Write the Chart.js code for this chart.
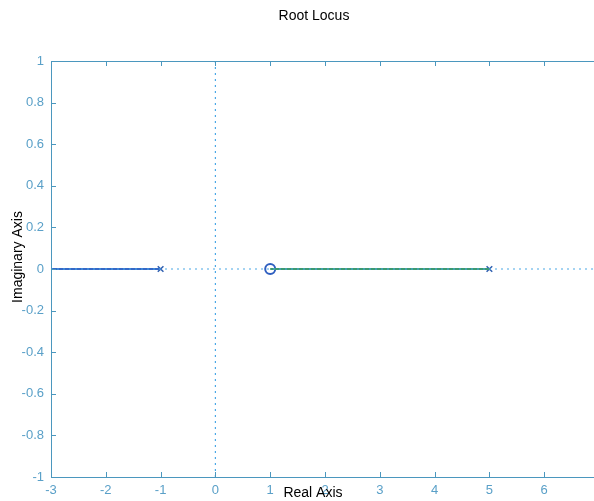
<!DOCTYPE html>
<html>
<head>
<meta charset="utf-8">
<title>Root Locus</title>
<script src="https://cdn.jsdelivr.net/npm/chart.js@4/dist/chart.umd.min.js"></script>
<style>
    html, body { margin: 0; padding: 0; background: #fff; overflow: hidden; }
    canvas { display: block; }
</style>
</head>
<body>
<canvas id="rlocus" width="606" height="501"></canvas>
<script>
// tick labels
const realTicks = [-3, -2, -1, 0, 1, 2, 3, 4, 5, 6, 7];
const imagTicks = [-1, -0.8, -0.6, -0.4, -0.2, 0, 0.2, 0.4, 0.6, 0.8, 1];

// locus branches (real part, imaginary part)
const branch1Re = [-3, -1];
const branch1Im = [0, 0];
const branch2Re = [1, 5];
const branch2Im = [0, 0];
const branch3Re = [-3, -2.1];
const branch3Im = [0, 0];

// open-loop poles and zeros
const polesRe = [-1, 5];
const polesIm = [0, 0];
const zerosRe = [1];
const zerosIm = [0];

// dotted axes through origin
const realLineRe = [-3, 7];
const realLineIm = [0, 0];
const imagLineRe = [0, 0];
const imagLineIm = [-1, 1];

const pts = (xs, ys) => xs.map((x, i) => ({ x, y: ys[i] }));

const axisColor = '#4b97be';
const labelColor = '#5aa0c8';
const dotColor = '#4aa8e6';

const frame = {
    id: 'frame',
    afterDraw(chart) {
        const { ctx, chartArea: a, scales } = chart;
        ctx.save();
        ctx.strokeStyle = axisColor;
        ctx.lineWidth = 1;
        ctx.strokeRect(a.left + 0.5, a.top + 0.5, a.right - a.left, a.bottom - a.top);
        ctx.beginPath();
        realTicks.forEach((v) => {
            const px = Math.round(scales.x.getPixelForValue(v)) + 0.5;
            ctx.moveTo(px, a.bottom); ctx.lineTo(px, a.bottom - 5);
            ctx.moveTo(px, a.top); ctx.lineTo(px, a.top + 5);
        });
        imagTicks.forEach((v) => {
            const py = Math.round(scales.y.getPixelForValue(v)) + 0.5;
            ctx.moveTo(a.left, py); ctx.lineTo(a.left + 5, py);
            ctx.moveTo(a.right, py); ctx.lineTo(a.right - 5, py);
        });
        ctx.stroke();

        ctx.fillStyle = '#000';
        ctx.font = '14px "Liberation Sans", Arial, sans-serif';
        ctx.textAlign = 'center';
        ctx.textBaseline = 'middle';
        ctx.fillText('Root Locus', 314, 16);
        ctx.fillText('Real Axis', 313, 493);
        ctx.translate(18, 257);
        ctx.rotate(-Math.PI / 2);
        ctx.fillText('Imaginary Axis', 0, 0);
        ctx.restore();
    },
};

new Chart(document.getElementById('rlocus'), {
    type: 'scatter',
    data: {
        datasets: [
            {
                data: pts(realLineRe, realLineIm),
                showLine: true,
                borderColor: dotColor,
                borderWidth: 1.2,
                borderDash: [2, 4],
                pointRadius: 0,
            },
            {
                data: pts(imagLineRe, imagLineIm),
                showLine: true,
                borderColor: dotColor,
                borderWidth: 1.2,
                borderDash: [2, 4],
                pointRadius: 0,
            },
            {
                data: pts(branch1Re, branch1Im),
                showLine: true,
                borderColor: '#3569c8',
                borderWidth: 2,
                pointRadius: 0,
            },
            {
                data: pts(branch3Re, branch3Im),
                showLine: true,
                borderColor: '#1f3f8a',
                borderWidth: 1,
                borderDash: [2, 3],
                pointRadius: 0,
            },
            {
                data: pts(branch2Re, branch2Im),
                showLine: true,
                borderColor: '#3c9a72',
                borderWidth: 2,
                pointRadius: 0,
            },
            {
                data: pts(polesRe, polesIm),
                pointStyle: 'crossRot',
                pointRadius: 4,
                borderColor: '#2f5fb0',
                borderWidth: 1.5,
            },
            {
                data: pts(zerosRe, zerosIm),
                pointStyle: 'circle',
                pointRadius: 5,
                borderColor: '#2f5fc0',
                backgroundColor: 'rgba(0,0,0,0)',
                borderWidth: 2,
            },
        ],
    },
    options: {
        responsive: false,
        animation: false,
        layout: { padding: { top: 61, right: 0, left: 0, bottom: 0 } },
        plugins: {
            legend: { display: false },
            tooltip: { enabled: false },
            title: { display: false },
        },
        scales: {
            x: {
                type: 'linear',
                min: -3,
                max: 7,
                afterBuildTicks: (s) => { s.ticks = realTicks.map((value) => ({ value })); },
                afterFit: (s) => { s.height = 24; s.paddingLeft = 0; s.paddingRight = 0; },
                grid: { display: false, drawTicks: false },
                border: { display: false },
                ticks: {
                    color: labelColor,
                    padding: 6,
                    font: { family: '"Liberation Sans", Arial, sans-serif', size: 13 },
                    maxRotation: 0,
                },
            },
            y: {
                type: 'linear',
                min: -1,
                max: 1,
                afterBuildTicks: (s) => { s.ticks = imagTicks.map((value) => ({ value })); },
                afterFit: (s) => { s.width = 51; s.paddingTop = 0; s.paddingBottom = 0; },
                grid: { display: false, drawTicks: false },
                border: { display: false },
                ticks: {
                    color: labelColor,
                    padding: 7,
                    font: { family: '"Liberation Sans", Arial, sans-serif', size: 13 },
                    callback: (v) => String(Math.round(v * 10) / 10),
                },
            },
        },
    },
    plugins: [frame],
});
</script>
</body>
</html>
